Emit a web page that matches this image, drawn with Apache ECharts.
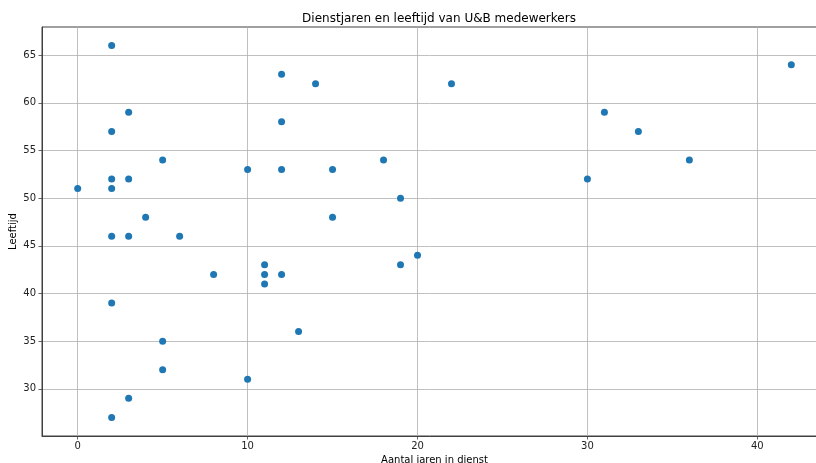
<!DOCTYPE html>
<html>
<head>
<meta charset="utf-8">
<script src="https://cdn.jsdelivr.net/npm/echarts@6/dist/echarts.min.js"></script>
<style>
html,body{margin:0;padding:0;background:#fff;}
#chart{width:816px;height:463px;}
</style>
</head>
<body>
<div id="chart"></div>
<script>
const dienstjaren = [0, 2, 2, 2, 2, 2, 2, 2, 3, 3, 3, 3, 4, 5, 5, 5, 6, 8, 10, 10, 11, 11, 11, 12, 12, 12, 12, 13, 14, 15, 15, 18, 19, 19, 20, 22, 30, 31, 33, 36, 42];
const leeftijd   = [51, 66, 57, 52, 51, 46, 39, 27, 59, 52, 46, 29, 48, 54, 35, 32, 46, 42, 53, 31, 43, 42, 41, 63, 58, 53, 42, 36, 62, 53, 48, 54, 50, 43, 44, 62, 52, 59, 57, 54, 64];
const xTicks = [0, 10, 20, 30, 40];
const yTicks = [30, 35, 40, 45, 50, 55, 60, 65];

const points = dienstjaren.map((x, i) => [x, leeftijd[i]]);
const font = 'DejaVu Sans';
const spine = '#404040';

const chart = echarts.init(document.getElementById('chart'), null, {renderer: 'canvas'});
chart.setOption({
  animation: false,
  backgroundColor: '#ffffff',
  title: {
    text: 'Dienstjaren en leeftijd van U&B medewerkers',
    left: 434, top: 8, textAlign: 'center',
    textStyle: {fontFamily: font, fontSize: 12, fontWeight: 'normal', color: '#000'}
  },
  grid: {
    left: 42, top: 27, right: -11, bottom: 27,
    containLabel: false, outerBoundsMode: 'none',
    show: true, borderColor: spine, borderWidth: 1, backgroundColor: 'transparent'
  },
  xAxis: {
    type: 'value',
    min: -2.1, max: 44.1,
    minInterval: 10, maxInterval: 10,
    name: 'Aantal jaren in dienst',
    nameLocation: 'middle', nameGap: 19, nameMoveOverlap: false,
    nameTextStyle: {fontFamily: font, fontSize: 10, color: '#000'},
    axisLine: {show: true, onZero: false, lineStyle: {color: spine, width: 1}},
    axisTick: {show: true, inside: false, length: 3.5, lineStyle: {color: spine, width: 0.8},
      customValues: xTicks},
    axisLabel: {fontFamily: font, fontSize: 10, color: '#222', margin: 5,
      customValues: xTicks},
    splitLine: {show: true, lineStyle: {color: '#b0b0b0', width: 0.8}}
  },
  yAxis: {
    type: 'value',
    min: 25.05, max: 67.95,
    minInterval: 5, maxInterval: 5,
    name: 'Leeftijd',
    nameLocation: 'middle', nameGap: 24, nameMoveOverlap: false,
    nameTextStyle: {fontFamily: font, fontSize: 10, color: '#000'},
    axisLine: {show: true, onZero: false, lineStyle: {color: spine, width: 1}},
    axisTick: {show: true, inside: false, length: 3.5, lineStyle: {color: spine, width: 0.8},
      customValues: yTicks},
    axisLabel: {fontFamily: font, fontSize: 10, color: '#222', margin: 6,
      customValues: yTicks},
    splitLine: {show: true, lineStyle: {color: '#b0b0b0', width: 0.8}}
  },
  series: [{
    type: 'scatter',
    data: points,
    symbol: 'circle',
    symbolSize: 7,
    itemStyle: {color: '#1f77b4', opacity: 1}
  }]
});
</script>
</body>
</html>
